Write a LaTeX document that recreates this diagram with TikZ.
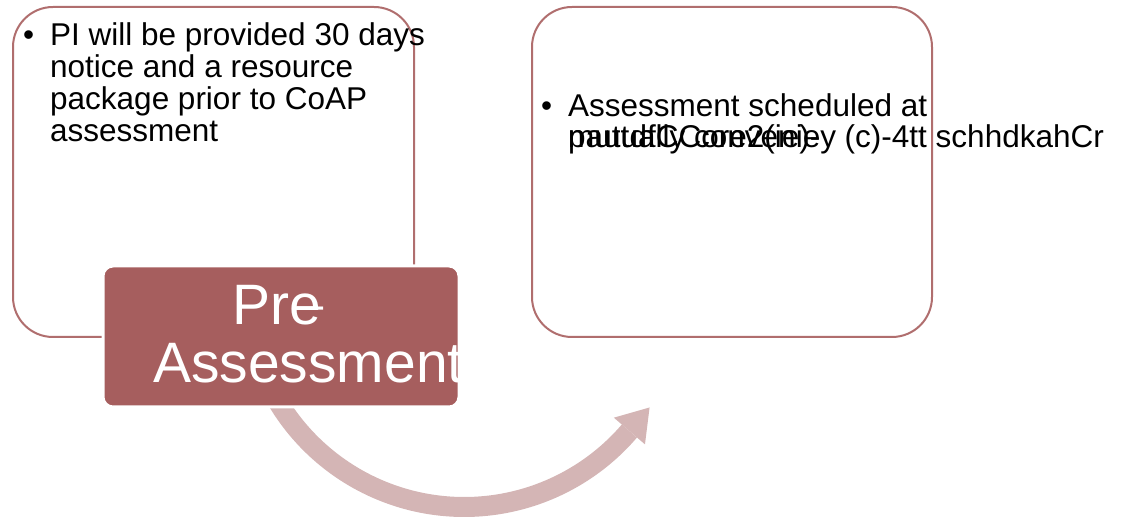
\documentclass[tikz,border=0pt]{standalone}
\usepackage{fontspec}
\setmainfont{Liberation Sans}
\usetikzlibrary{calc}
\definecolor{boxline}{RGB}{176,110,110}
\definecolor{prefill}{RGB}{166,94,94}
\definecolor{arrowc}{RGB}{212,181,181}
\begin{document}
\begin{tikzpicture}[x=1pt,y=1pt,
  panel/.style={draw=boxline, line width=2pt, rounded corners=40pt, fill=white, inner sep=0pt, anchor=south west},
  prebox/.style={draw=white, line width=3pt, rounded corners=10pt, fill=prefill, inner sep=0pt, anchor=south west},
  txt/.style={anchor=base west, inner sep=0pt, font=\fontsize{31.5}{32}\selectfont, text=black},
  big/.style={anchor=base west, inner sep=0pt, font=\fontsize{57}{58}\selectfont, text=white},
  band/.style={draw=arrowc, line width=20pt},
  head/.style={fill=arrowc}]
\useasboundingbox (0,0) rectangle (1122,524);
% panels
\node[panel, minimum width=401pt, minimum height=330pt] (left) at (12,186) {};
\node[panel, minimum width=400pt, minimum height=330pt] (right) at (531,186) {};
% curved arrow
\begin{scope}[shift={(464.2,234.6)}]
  \draw[band] (207:217.6) arc[start angle=207, end angle=319.4, radius=217.6];
  \fill[head] (319.4:197.1) -- ($(319.4:217.6)+(49.4:31)$) -- (319.4:238.1) -- cycle;
\end{scope}
% pre-assessment box
\node[prebox, minimum width=356pt, minimum height=141pt] (pre) at (101.5,115.5) {};
\begin{scope}
  \clip[rounded corners=10pt] ([shift={(1.5,1.5)}]pre.south west) rectangle ([shift={(-1.5,-1.5)}]pre.north east);
  \node[big] (pretxt) at (232,199) {Pre};
  \node[anchor=base west, inner sep=0pt, font=\fontsize{47}{48}\selectfont, text=white] (dash) at (297,203) {–};
  \node[big] (asstxt) at (153,141) {Assessment};
\end{scope}
% left text
\node[txt] (lb) at (23,478) {•};
\node[txt] (l1) at (50,478) {PI will be provided 30 days};
\node[txt] (l2) at (50,446) {notice and a resource};
\node[txt] (l3) at (50,414) {package prior to CoAP};
\node[txt] (l4) at (50,382) {assessment};
% right text
\node[txt] (rb) at (541,407) {•};
\node[txt] (r1) at (568,407) {Assessment scheduled at};
\node[txt] (r2a) at (568,376) {mutually convenie};
\node[txt] (r2b) at (568,376) {pautdfCCore2(ie)-y (c)-4tt schhdkahCr};
\end{tikzpicture}
\end{document}
